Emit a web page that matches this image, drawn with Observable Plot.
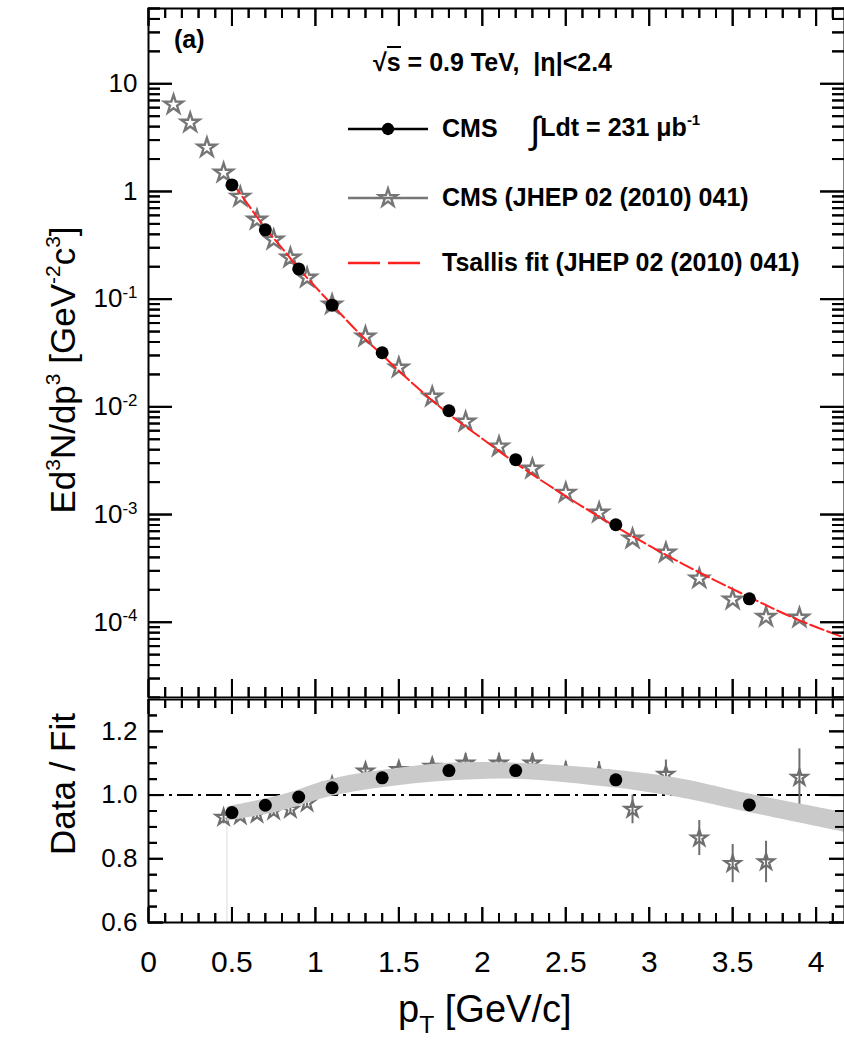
<!DOCTYPE html>
<html><head><meta charset="utf-8">
<script src="https://cdn.jsdelivr.net/npm/d3@7"></script>
<script src="https://cdn.jsdelivr.net/npm/@observablehq/plot@0.6"></script>
<style>
body{margin:0;background:#fff;font-family:"Liberation Sans",Arial,Helvetica,sans-serif;color:#000;}
#wrap{position:relative;width:844px;height:1043px;overflow:hidden;background:#fff;}
#wrap > svg.panel{display:block;}
.ov{position:absolute;white-space:nowrap;line-height:1;}
.bold{font-weight:bold;font-size:25px;}
.rot{transform:translate(-50%,-50%) rotate(-90deg);font-size:35px;}
.ov sup{font-size:0.6em;vertical-align:0.7em;line-height:0;}
.ov sub{font-size:0.65em;vertical-align:-0.45em;line-height:0;}
.swatch{position:absolute;}
#tickOverlay{position:absolute;left:0;top:0;pointer-events:none;}
</style></head><body>
<div id="wrap"></div>
<script>
// ---------------- data ----------------
// CMS, ∫Ldt = 231 µb^-1 (black dots)
const cmsPt    = [0.5, 0.7, 0.9, 1.1, 1.4, 1.8, 2.2, 2.8, 3.6];
const cmsYield = [1.15, 0.44, 0.191, 0.088, 0.0318, 0.0092, 0.00323, 0.000804, 0.000165];
const cmsRatio = [0.945, 0.968, 0.994, 1.023, 1.054, 1.077, 1.077, 1.048, 0.969];

// CMS (JHEP 02 (2010) 041) (grey stars)
const jhepPt    = [0.15, 0.25, 0.35, 0.45, 0.55, 0.65, 0.75, 0.85, 0.95, 1.1, 1.3, 1.5, 1.7, 1.9, 2.1, 2.3, 2.5, 2.7, 2.9, 3.1, 3.3, 3.5, 3.7, 3.9];
const jhepYield = [6.4, 4.35, 2.55, 1.49, 0.89, 0.546, 0.356, 0.242, 0.158, 0.089, 0.0448, 0.0231, 0.0124, 0.00727, 0.00427, 0.00266, 0.00159, 0.00104, 0.000596, 0.000442, 0.000254, 0.000162, 0.000112, 0.000110];
const jhepRatioPt  = [0.45, 0.55, 0.65, 0.75, 0.85, 0.95, 1.1, 1.3, 1.5, 1.7, 1.9, 2.1, 2.3, 2.5, 2.7, 2.9, 3.1, 3.3, 3.5, 3.7, 3.9];
const jhepRatio    = [0.93, 0.935, 0.94, 0.95, 0.955, 0.975, 1.03, 1.075, 1.08, 1.09, 1.10, 1.10, 1.10, 1.075, 1.07, 0.955, 1.065, 0.865, 0.785, 0.79, 1.055];
const jhepRatioErr = [0.02, 0.015, 0.015, 0.015, 0.015, 0.015, 0.02, 0.02, 0.02, 0.025, 0.03, 0.03, 0.03, 0.03, 0.035, 0.045, 0.045, 0.055, 0.06, 0.065, 0.09];

// Tsallis fit (red dashed line)
const fitPt    = [0.5, 0.6, 0.7, 0.8, 0.9, 1.0, 1.1, 1.25, 1.4, 1.6, 1.8, 2.0, 2.2, 2.5, 2.8, 3.2, 3.6, 3.9, 4.17];
const fitYield = [1.22, 0.742, 0.456, 0.298, 0.193, 0.130, 0.0888, 0.0504, 0.0303, 0.0156, 0.00856, 0.00506, 0.0030, 0.00148, 0.00077, 0.000349, 0.000171, 0.000104, 0.000072];

// grey band in ratio panel
const bandPt = [0.47, 0.5, 0.8, 1.1, 1.4, 1.8, 2.2, 2.8, 3.2, 3.6, 4.17];
const bandLo = [0.917, 0.92, 0.95, 0.996, 1.023, 1.044, 1.05, 1.022, 0.99, 0.945, 0.883];
const bandHi = [0.962, 0.966, 1.0, 1.05, 1.077, 1.10, 1.10, 1.078, 1.05, 1.003, 0.945];

// axis ticks
const xMajorTicks = [0, 0.5, 1, 1.5, 2, 2.5, 3, 3.5, 4];
const xMinorTicks = d3.range(1, 42).map(i => i / 10).filter(v => !xMajorTicks.includes(v));
const yTopLabels = [1e-4, 1e-3, 1e-2, 1e-1, 1, 10];
const yTopMinor = [];
for (let e = -5; e <= 1; e++) for (let k = 2; k <= 9; k++) { const v = k * Math.pow(10, e); if (v >= 2e-5 && v <= 50) yTopMinor.push(v); }
const yLowLabels = [0.6, 0.8, 1.0, 1.2];
const yLowMinor = [0.65, 0.7, 0.75, 0.85, 0.9, 0.95, 1.05, 1.1, 1.15, 1.25];

// ---------------- layout ----------------
const W = 844, xMax = 4.17;
const ML = 148, MR = 0;
const frameW = W - ML - MR;
const topH = 698, topMT = 8, topMB = 1, topFH = topH - topMT - topMB;
const lowH = 345, lowMT = 1, lowMB = 121, lowFH = lowH - lowMT - lowMB;
const topDomain = [2e-5, 50], lowDomain = [0.6, 1.3];
const FONT = "'Liberation Sans', Arial, Helvetica, sans-serif";

const cms = cmsPt.map((x, i) => ({x, y: cmsYield[i], ratio: cmsRatio[i]}));
const jhep = jhepPt.map((x, i) => ({x, y: jhepYield[i]}));
const jhepR = jhepRatioPt.map((x, i) => ({x, ratio: jhepRatio[i], lo: jhepRatio[i] - jhepRatioErr[i], hi: jhepRatio[i] + jhepRatioErr[i]}));
const fit = fitPt.map((x, i) => ({x, y: fitYield[i]}));
const band = bandPt.map((x, i) => ({x, lo: bandLo[i], hi: bandHi[i]}));

// inward ticks on all four frame sides; lengths in pixels, converted to data units
function frameTicks(fh, isLog, dom, xMajLen, xMinLen, yMaj, yMin, yMajLen, yMinLen) {
  const st = {stroke: "black", strokeWidth: 2};
  const f = isLog ? Math.log10 : (v => v), fi = isLog ? (v => Math.pow(10, v)) : (v => v);
  const a = f(dom[0]), b = f(dom[1]);
  const fromBottom = px => fi(a + (b - a) * px / fh);
  const fromTop = px => fi(b - (b - a) * px / fh);
  const xu = px => px * xMax / frameW;
  return [
    Plot.ruleX(xMinorTicks, {x: d => d, y1: dom[0], y2: fromBottom(xMinLen), ...st}),
    Plot.ruleX(xMinorTicks, {x: d => d, y1: dom[1], y2: fromTop(xMinLen), ...st}),
    Plot.ruleX(xMajorTicks, {x: d => d, y1: dom[0], y2: fromBottom(xMajLen), ...st}),
    Plot.ruleX(xMajorTicks, {x: d => d, y1: dom[1], y2: fromTop(xMajLen), ...st}),
    Plot.ruleY(yMin, {y: d => d, x1: 0, x2: xu(yMinLen), ...st}),
    Plot.ruleY(yMin, {y: d => d, x1: xMax, x2: xMax - xu(yMinLen), ...st}),
    Plot.ruleY(yMaj, {y: d => d, x1: 0, x2: xu(yMajLen), ...st}),
    Plot.ruleY(yMaj, {y: d => d, x1: xMax, x2: xMax - xu(yMajLen), ...st})
  ];
}

const topPlot = Plot.plot({
  width: W, height: topH,
  marginLeft: ML, marginRight: MR, marginTop: topMT, marginBottom: topMB,
  style: {background: "white", fontFamily: FONT, fontSize: "26px", color: "black"},
  x: {domain: [0, xMax], axis: null, label: null},
  y: {type: "log", domain: topDomain, label: null},
  marks: [
    ...frameTicks(topFH, true, topDomain, 18, 10, yTopLabels, yTopMinor, 24, 12),
    Plot.axisY(yTopLabels, {tickSize: 0, tickPadding: 11, label: null,
      tickFormat: d => { const e = Math.round(Math.log10(d)); return e === 0 ? "1" : e === 1 ? "10" : "10^" + e; }}),
    Plot.dot(jhep, {x: "x", y: "y", symbol: "star", r: 5.8, stroke: "#767676", strokeWidth: 2.4, fill: "none"}),
    Plot.line(fit, {x: "x", y: "y", stroke: "#ff2020", strokeWidth: 2, strokeDasharray: "14,4", curve: "catmull-rom"}),
    Plot.dot(cms, {x: "x", y: "y", r: 6.5, fill: "black"}),
    Plot.frame({stroke: "black", strokeWidth: 2})
  ]
});

const lowPlot = Plot.plot({
  width: W, height: lowH,
  marginLeft: ML, marginRight: MR, marginTop: lowMT, marginBottom: lowMB,
  style: {background: "white", fontFamily: FONT, fontSize: "26px", color: "black"},
  x: {domain: [0, xMax], label: null},
  y: {domain: lowDomain, label: null},
  marks: [
    ...frameTicks(lowFH, false, lowDomain, 15, 9, yLowLabels, yLowMinor, 15, 9),
    Plot.axisY(yLowLabels, {tickSize: 0, tickPadding: 11, label: null, tickFormat: d => d.toFixed(1)}),
    Plot.axisX(xMajorTicks, {tickSize: 0, tickPadding: 28, label: null, tickFormat: d => String(d)}),
    Plot.ruleY([1], {stroke: "black", strokeWidth: 2, strokeDasharray: "16,5,3,5"}),
    Plot.ruleX(band.slice(0, 1), {x: "x", y1: lowDomain[0], y2: "lo", stroke: "#dcdcdc", strokeWidth: 1}),
    Plot.ruleX(jhepR, {x: "x", y1: "lo", y2: "hi", stroke: "#6e6e6e", strokeWidth: 2}),
    Plot.dot(jhepR, {x: "x", y: "ratio", symbol: "star", r: 5, stroke: "#6e6e6e", strokeWidth: 2.2, fill: "none"}),
    Plot.areaY(band, {x: "x", y1: "lo", y2: "hi", fill: "#cacaca", curve: "catmull-rom"}),
    Plot.dot(cms, {x: "x", y: "ratio", r: 6.5, fill: "black"}),
    Plot.frame({stroke: "black", strokeWidth: 2})
  ]
});
topPlot.classList.add("panel");
lowPlot.classList.add("panel");

// superscripts on log tick labels
d3.select(topPlot).selectAll('g[aria-label="y-axis tick label"] text').each(function () {
  const t = this.textContent;
  if (t.includes("^")) {
    const [base, ex] = t.split("^");
    const sel = d3.select(this);
    sel.text(base);
    sel.append("tspan").attr("dy", "-0.55em").attr("font-size", "0.65em").text(ex);
  }
});
d3.select(lowPlot).selectAll('g[aria-label="x-axis tick label"]').attr("font-size", 30);

const wrap = document.getElementById("wrap");
wrap.appendChild(topPlot);
wrap.appendChild(lowPlot);

// ---------------- overlays: text & legend ----------------
function ov(html, style, cls) {
  const d = document.createElement("div");
  d.className = "ov " + (cls || "");
  d.innerHTML = html;
  Object.assign(d.style, style);
  wrap.appendChild(d);
  return d;
}
ov("(a)", {left: "174px", top: "27px"}, "bold");
ov('√<span style="border-top:2px solid #000">s</span> = 0.9 TeV,&nbsp; |η|&lt;2.4', {left: "373px", top: "50px"}, "bold");

function swatch(cy, stroke, dash, symbol, fill) {
  const svg = d3.create("svg").attr("width", 80).attr("height", 30).attr("class", "swatch")
    .style("left", "348px").style("top", (cy - 15) + "px");
  svg.append("line").attr("x1", 0).attr("x2", 80).attr("y1", 15).attr("y2", 15)
    .attr("stroke", stroke).attr("stroke-width", 2.5).attr("stroke-dasharray", dash || null);
  if (symbol) {
    svg.append("path").attr("transform", "translate(40,15)")
      .attr("d", d3.symbol(symbol, symbol === d3.symbolStar ? 100 : 120)())
      .attr("fill", fill).attr("stroke", fill === "none" ? "#767676" : "none").attr("stroke-width", 2.4);
  }
  wrap.appendChild(svg.node());
}
swatch(129, "black", null, d3.symbolCircle, "black");
swatch(198, "#767676", null, d3.symbolStar, "none");
swatch(263, "#ff2020", "32,8", null, null);

ov("CMS", {left: "442px", top: "116px"}, "bold");
ov('<span style="font-size:1.5em;font-weight:normal;vertical-align:-0.2em">∫</span>Ldt = 231 μb<sup>-1</sup>', {left: "530px", top: "112px"}, "bold");
ov("CMS (JHEP 02 (2010) 041)", {left: "442px", top: "185px"}, "bold");
ov("Tsallis fit (JHEP 02 (2010) 041)", {left: "442px", top: "250px"}, "bold");

ov("Ed<sup>3</sup>N/dp<sup>3</sup> [GeV<sup>-2</sup>c<sup>3</sup>]", {left: "62px", top: "370px"}, "rot");
ov("Data / Fit", {left: "62px", top: "784px"}, "rot");
ov("p<sub>T</sub> [GeV/c]", {left: "398px", top: "990px", fontSize: "38px"});

// ---------------- topmost tick layer, positioned through the plots' own scales ----------------
const tickSvg = d3.create("svg").attr("id", "tickOverlay").attr("width", W).attr("height", topH + lowH)
  .attr("viewBox", `0 0 ${W} ${topH + lowH}`);
const tg = tickSvg.append("g").attr("stroke", "#000").attr("stroke-width", 2).attr("fill", "none");
function tickLayer(plot, offsetY, yMaj, yMin, xMajLen, xMinLen, yMajLen, yMinLen) {
  const sx = plot.scale("x"), sy = plot.scale("y");
  const x0 = sx.apply(0), x1 = sx.apply(xMax);
  const yb = sy.apply(sy.domain[0]) + offsetY, yt = sy.apply(sy.domain[1]) + offsetY;
  const add = (a, b, c, d) => tg.append("line").attr("x1", a).attr("y1", b).attr("x2", c).attr("y2", d);
  for (const [vals, len] of [[xMinorTicks, xMinLen], [xMajorTicks, xMajLen]]) for (const v of vals) {
    const px = sx.apply(v) + 0.5;
    add(px, yb, px, yb - len); add(px, yt, px, yt + len);
  }
  for (const [vals, len] of [[yMin, yMinLen], [yMaj, yMajLen]]) for (const v of vals) {
    const py = sy.apply(v) + offsetY + 0.5;
    add(x0, py, x0 + len, py); add(x1, py, x1 - len, py);
  }
}
tickLayer(topPlot, 0, yTopLabels, yTopMinor, 18, 10, 24, 12);
tickLayer(lowPlot, topH, yLowLabels, yLowMinor, 15, 9, 15, 9);
wrap.appendChild(tickSvg.node());
</script>
</body></html>
